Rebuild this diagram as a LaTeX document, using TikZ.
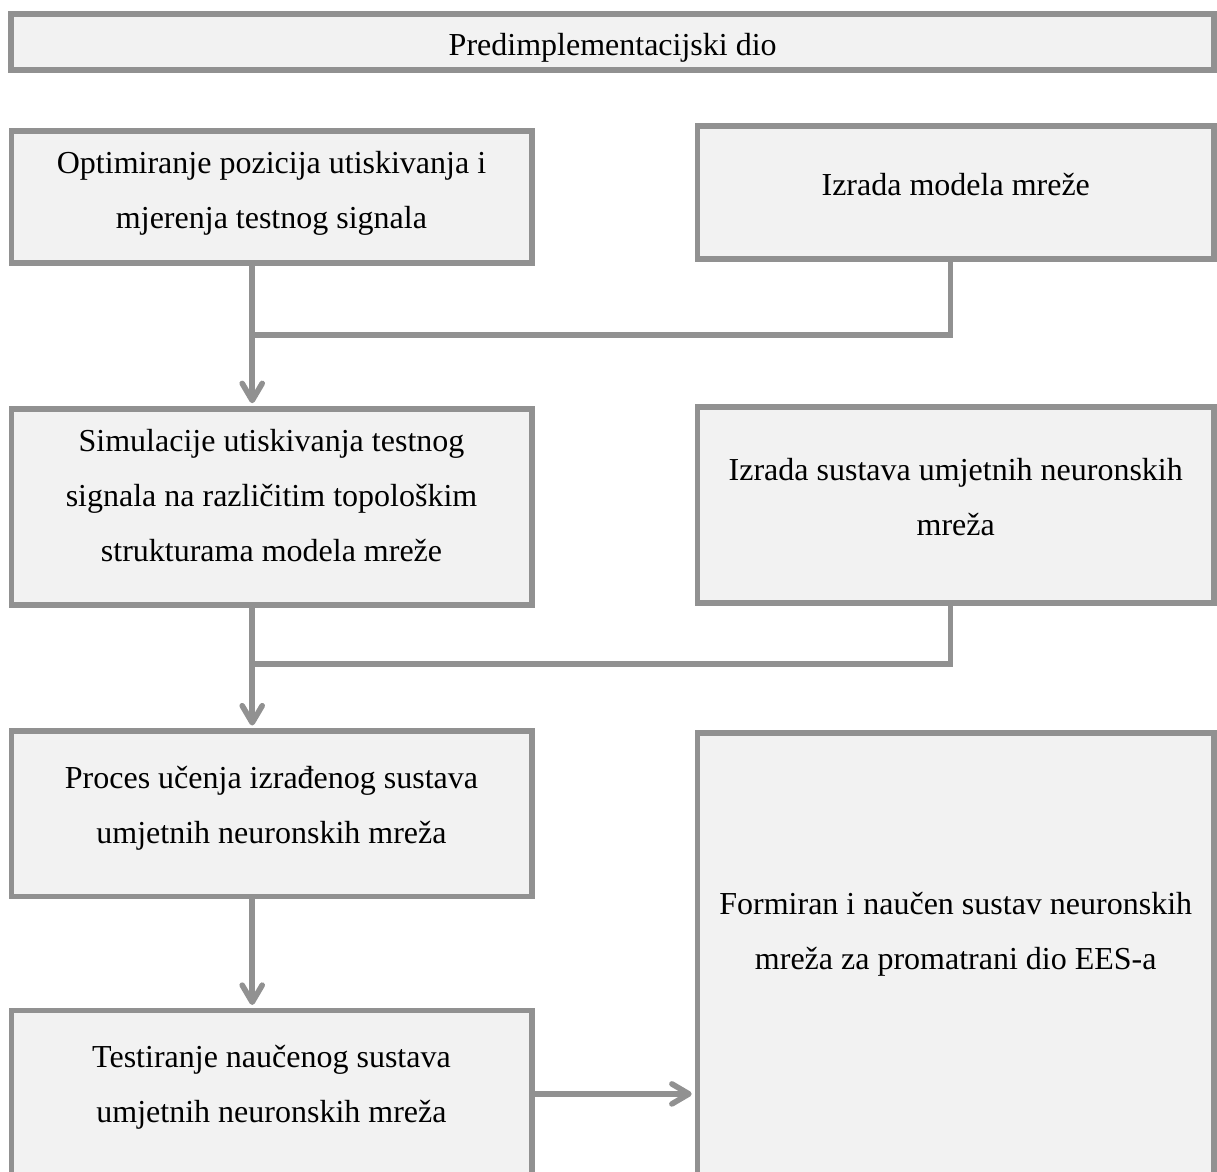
\documentclass[tikz,border=0pt]{standalone}
\usepackage{fontspec}
\setmainfont{Liberation Serif}
\usetikzlibrary{arrows.meta}
\definecolor{boxgray}{RGB}{145,145,145}
\definecolor{boxfill}{RGB}{242,242,242}
\begin{document}
\begin{tikzpicture}[x=1pt, y=-1pt,
  box/.style={draw=boxgray, fill=boxfill, line width=5.6pt, align=center, inner sep=0pt,
    font=\fontsize{32}{55}\selectfont, text height=22pt, text depth=17pt},
  lines2/.style={text height=77pt},
  lines3/.style={text height=132pt, text depth=23pt},
  link/.style={draw=boxgray, line width=5.6pt},
  arr/.style={link, -{Straight Barb[length=17pt, width=20pt, round]}, shorten >=2.8pt}]
\useasboundingbox (0,0) rectangle (1217,1171);
% boxes
\node[box, minimum width=1203pt, minimum height=56pt, text height=30pt, text depth=2pt] (pre) at (612.7,41.8) {Predimplementacijski dio};
\node[box, lines2, minimum width=520.4pt, minimum height=131.9pt, text depth=14pt] (opt) at (271.5,196.75) {Optimiranje pozicija utiskivanja i\\mjerenja testnog signala};
\node[box, minimum width=516.9pt, minimum height=133pt] (model) at (955.75,192.7) {Izrada modela mreže};
\node[box, lines3, minimum width=520.4pt, minimum height=196.4pt] (sim) at (271.5,507) {Simulacije utiskivanja testnog\\signala na različitim topološkim\\strukturama modela mreže};
\node[box, lines2, minimum width=516.9pt, minimum height=196.4pt] (ann) at (955.75,505) {Izrada sustava umjetnih neuronskih\\mreža};
\node[box, lines2, minimum width=520.4pt, minimum height=165.4pt] (learn) at (271.5,813.8) {Proces učenja izrađenog sustava\\umjetnih neuronskih mreža};
\node[box, lines2, minimum width=520.4pt, minimum height=166.7pt, text depth=19pt] (test) at (271.5,1093.9) {Testiranje naučenog sustava\\umjetnih neuronskih mreža};
\node[box, lines2, minimum width=516.9pt, minimum height=454.4pt, text depth=58pt] (final) at (955.75,960) {Formiran i naučen sustav neuronskih\\mreža za promatrani dio EES-a};
% junctions
\coordinate (j1) at (252.2,335);
\coordinate (k1) at (950.5,335);
\coordinate (j2) at (252.2,664);
\coordinate (k2) at (950.5,664);
% connectors
\draw[arr] (opt.south -| j1) -- (sim.north -| j1);
\draw[link] (model.south -| k1) -- (k1) -- (j1);
\draw[arr] (sim.south -| j2) -- (learn.north -| j2);
\draw[link] (ann.south -| k2) -- (k2) -- (j2);
\draw[arr] (learn.south -| j2) -- (test.north -| j2);
\draw[arr] (test.east) -- (test.east -| final.west);
\end{tikzpicture}
\end{document}
